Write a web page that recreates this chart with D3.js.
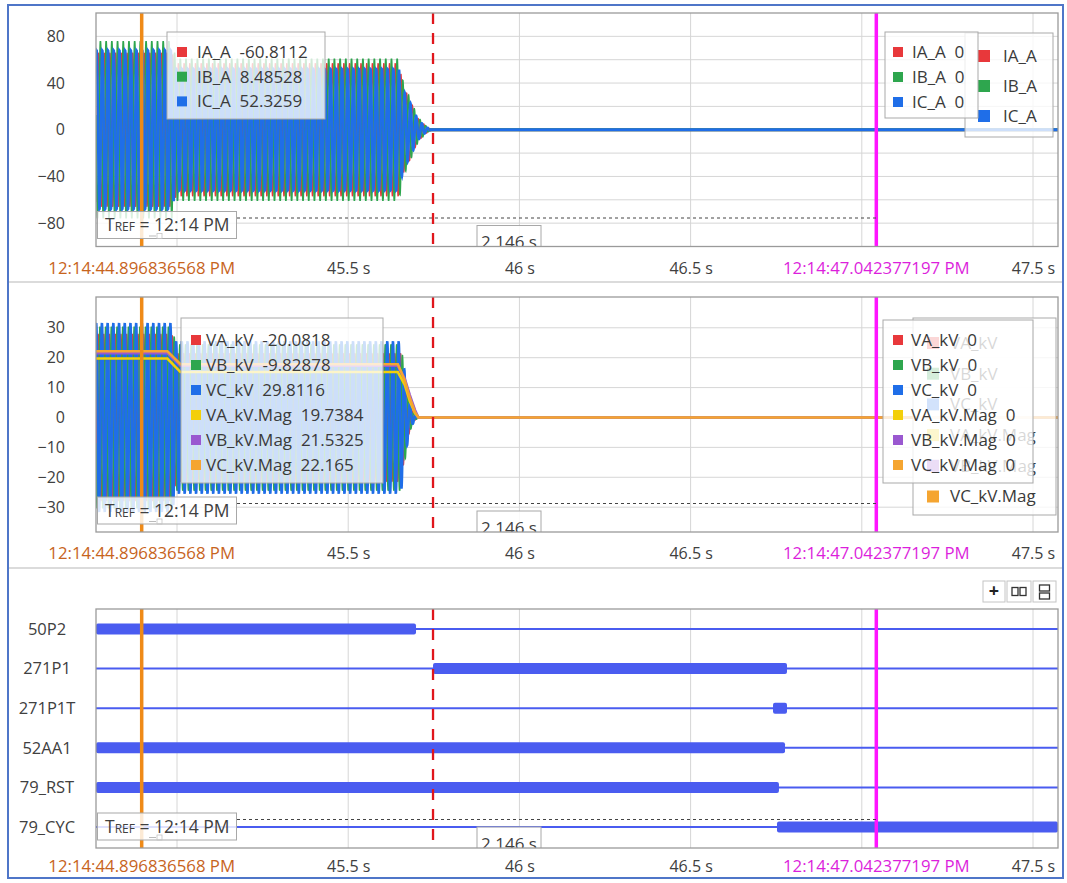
<!DOCTYPE html>
<html><head><meta charset="utf-8">
<script src="https://cdn.jsdelivr.net/npm/d3@7/dist/d3.min.js"></script>
<style>
html,body{margin:0;padding:0;background:#fff;}
svg{display:block;}
text{font-family:"Open Sans","Noto Sans",sans-serif;}
</style></head><body>
<svg id="chart" width="1067" height="883"></svg>
<script>
// ================= DATA =================
const timeDomain = [44.7634, 47.5730];               // seconds after 12:14 PM
const timeTicks = [45, 45.5, 46, 46.5, 47, 47.5];
const timeTickLabels = ["45 s", "45.5 s", "46 s", "46.5 s", "47 s", "47.5 s"];
const cursorTimes = [44.896836568, 47.042377197];
const cursorLabels = ["12:14:44.896836568 PM", "12:14:47.042377197 PM"];
const markerTime = 45.7477;
const deltaText = "2.146 s";
const trefParts = ["T", "REF", " = 12:14 PM"];
const systemHz = 60;

// Currents (A)
const currentNames = ["IA_A", "IB_A", "IC_A"];
const currentAtCursor1 = [-60.8112, 8.48528, 52.3259];
const currentAtCursor2 = [0, 0, 0];
const currentTicks = [-80, -40, 0, 40, 80];
const currentEnvTimes = [44.7634, 44.985, 44.997, 45.648, 45.661, 45.680, 45.703, 45.724, 45.742];
const currentEnvIA = [66, 66, 57, 57, 37, 26, 10, 4, 0];
const currentEnvIB = [76, 76, 61, 61, 40, 27, 11, 4, 0];
const currentEnvIC = [68, 68, 52, 52, 34, 24, 9, 3, 0];

// Voltages (kV)
const voltageNames = ["VA_kV", "VB_kV", "VC_kV"];
const voltageAtCursor1 = [-20.0818, -9.82878, 29.8116];
const voltageTicks = [-30, -20, -10, 0, 10, 20, 30];
const voltageEnvTimes = [44.7634, 44.985, 44.997, 45.654, 45.665, 45.675, 45.685, 45.695, 45.705];
const voltageEnvVA = [28.0, 28.0, 21.5, 21.5, 13, 6.5, 2.6, 0.9, 0];
const voltageEnvVB = [30.4, 30.4, 24.5, 24.5, 15, 7.5, 3.0, 1.0, 0];
const voltageEnvVC = [31.3, 31.3, 25.2, 25.2, 15, 7.0, 2.8, 0.9, 0];
const magNames = ["VA_kV.Mag", "VB_kV.Mag", "VC_kV.Mag"];
const magAtCursor1 = [19.7384, 21.5325, 22.165];
const magTimes = [44.7634, 44.972, 45.010, 45.645, 45.665, 45.680, 45.695, 45.705];
const magVA = [19.7384, 19.7384, 15.2, 15.2, 11, 5.5, 1.5, 0];
const magVB = [21.5325, 21.5325, 17.3, 17.3, 13, 7.5, 2.5, 0];
const magVC = [22.165, 22.165, 17.8, 17.8, 12.5, 6.5, 1.8, 0];

// Digital channels: asserted intervals (start, end)
const digitalNames = ["50P2", "271P1", "271P1T", "52AA1", "79_RST", "79_CYC"];
const digitalStarts = [[44.7634], [45.7477], [46.7407], [44.7634], [44.7634], [46.7523]];
const digitalEnds   = [[45.698],  [46.7815], [46.7815], [46.7757], [46.758],  [47.5730]];

// ================= STYLE =================
const phaseColors = ["#e8383b", "#2ea64e", "#1f6ee8"];
const phaseWidths = [1.4, 1.6, 2.6];
const magColors = ["#f3cf0a", "#9a58d0", "#f5a531"];
const digColor = "#4a5cf0";
const cOrange = "#ef8a17", cMagenta = "#ff14ff", cRed = "#e0161c";
const gridColor = "#d6d6d6";
const FONT = '"Open Sans","Noto Sans",sans-serif';

const svg = d3.select("#chart");
const X0 = 96, X1 = 1058;
const x = d3.scaleLinear().domain(timeDomain).range([X0, X1]);

// outer frame
svg.append("rect").attr("x", 8).attr("y", 5).attr("width", 1055).attr("height", 873)
  .attr("fill", "none").attr("stroke", "#4f76c8").attr("stroke-width", 2);
[282, 568].forEach(yy => svg.append("line").attr("x1", 9).attr("x2", 1062).attr("y1", yy).attr("y2", yy)
  .attr("stroke", "#cfcfcf").attr("stroke-width", 1.5));

const panels = [
  {id: "p1", y0: 13, y1: 246.5, labelY: 268},
  {id: "p2", y0: 297, y1: 532, labelY: 553},
  {id: "p3", y0: 609, y1: 848, labelY: 866}
];

const defs = svg.append("defs");
panels.forEach(p => {
  defs.append("clipPath").attr("id", "clip-" + p.id).append("rect")
    .attr("x", X0).attr("y", p.y0).attr("width", X1 - X0).attr("height", p.y1 - p.y0);
});

function phasorAngle(vals) {
  const a = (2 / 3) * (vals[0] - (vals[1] + vals[2]) / 2);
  const b = (vals[1] - vals[2]) / Math.sqrt(3);
  return Math.atan2(b, a);
}

function waveSeries(envTimes, envVals, theta0, k) {
  const env = d3.scaleLinear().domain(envTimes).range(envVals).clamp(true);
  const step = 1 / (systemHz * 40);
  const tEnd = envTimes[envTimes.length - 1];
  const pts = d3.range(timeDomain[0], tEnd, step).map(t => {
    const ang = theta0 + 2 * Math.PI * systemHz * (t - cursorTimes[0]) - k * 2 * Math.PI / 3;
    return [t, env(t) * Math.cos(ang)];
  });
  pts.push([tEnd, 0]);
  return pts;
}

function drawFrame(p, g) {
  g.selectAll(".vg").data(timeTicks).join("line")
    .attr("x1", d => x(d)).attr("x2", d => x(d)).attr("y1", p.y0).attr("y2", p.y1)
    .attr("stroke", gridColor).attr("stroke-width", 1);
}

function drawBorder(p) {
  svg.append("rect").attr("x", X0).attr("y", p.y0).attr("width", X1 - X0).attr("height", p.y1 - p.y0)
    .attr("fill", "none").attr("stroke", "#9a9a9a").attr("stroke-width", 1.3);
}

function drawXAxis(p) {
  const ax = d3.axisBottom(x).tickValues(timeTicks).tickFormat((d, i) => timeTickLabels[i]).tickSize(0).tickPadding(0);
  const g = svg.append("g").attr("transform", `translate(0,${p.labelY})`).call(ax);
  g.select(".domain").remove();
  g.selectAll("text").attr("dy", "0.35em").attr("font-size", 16).attr("fill", "#404040")
    .style("font-family", FONT)
    .attr("display", d => cursorTimes.some(c => Math.abs(x(c) - x(d)) < 110) ? "none" : null);
  const cl = svg.append("g");
  cl.selectAll("text").data(cursorTimes).join("text")
    .attr("x", d => x(d)).attr("y", p.labelY).attr("dy", "0.35em").attr("text-anchor", "middle")
    .attr("font-size", 16.8).attr("fill", (d, i) => i === 0 ? "#c7641d" : "#dc1fdc")
    .text((d, i) => cursorLabels[i]);
}

function drawCursors(p, g) {
  g.append("line").attr("x1", x(cursorTimes[0])).attr("x2", x(cursorTimes[0])).attr("y1", p.y0).attr("y2", p.y1)
    .attr("stroke", cOrange).attr("stroke-width", 3.5);
  g.append("line").attr("x1", x(cursorTimes[1])).attr("x2", x(cursorTimes[1])).attr("y1", p.y0).attr("y2", p.y1)
    .attr("stroke", cMagenta).attr("stroke-width", 3.5);
  g.append("line").attr("x1", x(markerTime)).attr("x2", x(markerTime)).attr("y1", p.y0).attr("y2", p.y1)
    .attr("stroke", cRed).attr("stroke-width", 2.3).attr("stroke-dasharray", "11,9");
}

function drawTref(p, g) {
  const b = p.y1;
  g.append("line").attr("x1", 237).attr("x2", x(cursorTimes[1])).attr("y1", b - 28.5).attr("y2", b - 28.5)
    .attr("stroke", "#444").attr("stroke-width", 1).attr("stroke-dasharray", "3,3");
  g.append("rect").attr("x", 97.5).attr("y", b - 35).attr("width", 139).attr("height", 27)
    .attr("fill", "rgba(255,255,255,0.82)").attr("stroke", "#a8a8a8").attr("stroke-width", 1);
  const t = g.append("text").attr("x", 105).attr("y", b - 15.5).attr("font-size", 17.5).attr("fill", "#404040");
  t.append("tspan").text(trefParts[0]);
  t.append("tspan").attr("font-size", 12).text(trefParts[1]);
  t.append("tspan").text(trefParts[2]);
  g.append("line").attr("x1", 149).attr("x2", 156).attr("y1", b - 10.5).attr("y2", b - 10.5)
    .attr("stroke", "#bbb").attr("stroke-width", 1);
  g.append("rect").attr("x", 157).attr("y", b - 13).attr("width", 5).attr("height", 5)
    .attr("fill", "none").attr("stroke", "#c4c4c4").attr("stroke-width", 0.8);
  g.append("rect").attr("x", 477).attr("y", b - 21).attr("width", 64).attr("height", 30)
    .attr("fill", "rgba(255,255,255,0.85)").attr("stroke", "#a8a8a8").attr("stroke-width", 1);
  g.append("text").attr("x", 509).attr("y", b + 1.5).attr("text-anchor", "middle")
    .attr("font-size", 17).attr("fill", "#404040").text(deltaText);
}

function drawLegend(g, o) {
  g.append("rect").attr("x", o.x).attr("y", o.y).attr("width", o.w).attr("height", o.h)
    .attr("fill", o.fill || "rgba(255,255,255,0.78)").attr("stroke", "#a9a9a9").attr("stroke-width", 1);
  const rows = g.selectAll(null).data(o.names).join("g")
    .attr("transform", (d, i) => `translate(0,${o.firstY + i * o.rowH})`);
  rows.append("rect").attr("x", o.sqX).attr("y", -o.sq / 2).attr("width", o.sq).attr("height", o.sq)
    .attr("fill", (d, i) => o.colors[i]);
  rows.append("text").attr("x", o.txtX).attr("y", 0).attr("dy", "0.35em").attr("font-size", 17)
    .attr("fill", "#3a3a3a")
    .text((d, i) => o.values ? d + "\u00a0\u00a0" + String(o.values[i]) : d);
}

function drawYAxis(axis, xPos, size, anchor) {
  const ag = svg.append("g").attr("transform", `translate(${xPos},0)`).call(axis);
  ag.select(".domain").remove();
  const t = ag.selectAll("text").attr("font-size", size).attr("fill", "#404040").style("font-family", FONT);
  if (anchor) t.attr("text-anchor", anchor);
}

// ---------------- Panel 1: currents ----------------
{
  const p = panels[0];
  const y = d3.scaleLinear().domain([-100, 100]).range([p.y1, p.y0]);
  const g = svg.append("g").attr("clip-path", "url(#clip-p1)");
  drawFrame(p, g);
  g.selectAll(".hg").data(d3.range(-80, 81, 20)).join("line")
    .attr("x1", X0).attr("x2", X1).attr("y1", d => y(d)).attr("y2", d => y(d))
    .attr("stroke", gridColor).attr("stroke-width", 1);
  const th = phasorAngle(currentAtCursor1);
  const envs = [currentEnvIA, currentEnvIB, currentEnvIC];
  const line = d3.line().x(d => x(d[0])).y(d => y(d[1]));
  envs.forEach((env, k) => {
    g.append("path").attr("d", line(waveSeries(currentEnvTimes, env, th, k)))
      .attr("fill", "none").attr("stroke", phaseColors[k]).attr("stroke-width", phaseWidths[k]);
  });
  const tEnd = currentEnvTimes[currentEnvTimes.length - 1];
  envs.forEach((env, k) => {
    g.append("path").attr("d", line([[tEnd - 0.004, 0], [timeDomain[1], 0]]))
      .attr("fill", "none").attr("stroke", phaseColors[k]).attr("stroke-width", 2.8);
  });
  drawCursors(p, g);
  drawTref(p, g);
  drawLegend(g, {x: 167, y: 32, w: 158, h: 87, names: currentNames, colors: phaseColors,
    values: currentAtCursor1, firstY: 52, rowH: 24.7, sq: 10, sqX: 177, txtX: 197});
  drawLegend(g, {x: 965, y: 33, w: 88, h: 104, names: currentNames, colors: phaseColors,
    firstY: 56, rowH: 30, sq: 12, sqX: 978, txtX: 1003});
  drawLegend(g, {x: 885, y: 32, w: 93, h: 86, names: currentNames, colors: phaseColors,
    values: currentAtCursor2, firstY: 52, rowH: 25, sq: 10, sqX: 893, txtX: 912});
  drawBorder(p);
  drawYAxis(d3.axisLeft(y).tickValues(currentTicks).tickSize(0).tickPadding(0), 65, 16);
  drawXAxis(p);
}

// ---------------- Panel 2: voltages ----------------
{
  const p = panels[1];
  const y = d3.scaleLinear().domain([-38.3, 40.3]).range([p.y1, p.y0]);
  const g = svg.append("g").attr("clip-path", "url(#clip-p2)");
  drawFrame(p, g);
  g.selectAll(".hg").data(voltageTicks).join("line")
    .attr("x1", X0).attr("x2", X1).attr("y1", d => y(d)).attr("y2", d => y(d))
    .attr("stroke", gridColor).attr("stroke-width", 1);
  const th = phasorAngle(voltageAtCursor1);
  const envs = [voltageEnvVA, voltageEnvVB, voltageEnvVC];
  const line = d3.line().x(d => x(d[0])).y(d => y(d[1]));
  envs.forEach((env, k) => {
    g.append("path").attr("d", line(waveSeries(voltageEnvTimes, env, th, k)))
      .attr("fill", "none").attr("stroke", phaseColors[k]).attr("stroke-width", phaseWidths[k]);
  });
  [magVA, magVB, magVC].forEach((m, k) => {
    const pts = magTimes.map((t, i) => [t, m[i]]).concat([[timeDomain[1], 0]]);
    g.append("path").attr("d", line(pts)).attr("fill", "none")
      .attr("stroke", magColors[k]).attr("stroke-width", 2.6);
  });
  drawCursors(p, g);
  drawTref(p, g);
  drawLegend(g, {x: 181, y: 318, w: 202, h: 165, names: voltageNames.concat(magNames),
    colors: phaseColors.concat(magColors), values: voltageAtCursor1.concat(magAtCursor1),
    firstY: 340, rowH: 25, sq: 10, sqX: 191, txtX: 206});
  drawLegend(g, {x: 913, y: 318, w: 143, h: 197, names: voltageNames.concat(magNames),
    colors: phaseColors.concat(magColors), firstY: 343, rowH: 30.7, sq: 12, sqX: 927, txtX: 950});
  drawLegend(g, {x: 883, y: 320, w: 150, h: 163, names: voltageNames.concat(magNames),
    colors: phaseColors.concat(magColors), values: [0, 0, 0, 0, 0, 0],
    firstY: 340, rowH: 25, sq: 10, sqX: 893, txtX: 911, fill: "rgba(255,255,255,0.8)"});
  drawBorder(p);
  drawYAxis(d3.axisLeft(y).tickValues(voltageTicks).tickSize(0).tickPadding(0), 65, 16);
  drawXAxis(p);
}

// ---------------- Panel 3: digital ----------------
{
  const p = panels[2];
  const yr = d3.scalePoint().domain(digitalNames).range([629, 827]);
  const g = svg.append("g").attr("clip-path", "url(#clip-p3)");
  drawFrame(p, g);
  g.selectAll(".base").data(digitalNames).join("line")
    .attr("x1", X0).attr("x2", X1).attr("y1", d => yr(d)).attr("y2", d => yr(d))
    .attr("stroke", digColor).attr("stroke-width", 2);
  digitalNames.forEach((n, i) => {
    digitalStarts[i].forEach((s, j) => {
      const e = digitalEnds[i][j];
      g.append("rect").attr("x", x(s)).attr("y", yr(n) - 5.5).attr("width", x(e) - x(s)).attr("height", 11)
        .attr("rx", 2).attr("fill", digColor);
    });
  });
  drawCursors(p, g);
  drawTref(p, g);
  drawBorder(p);
  drawYAxis(d3.axisLeft(yr).tickSize(0).tickPadding(0), 47, 16.5, "middle");
  drawXAxis(p);

  // toolbar buttons
  const bg = svg.append("g");
  const btns = [[983, 22], [1007, 24], [1033, 23]];
  btns.forEach(([bx, bw]) => bg.append("rect").attr("x", bx).attr("y", 581).attr("width", bw).attr("height", 21)
    .attr("fill", "#fff").attr("stroke", "#c4c4c4"));
  bg.append("text").attr("x", 994).attr("y", 597).attr("text-anchor", "middle").attr("font-size", 18)
    .attr("font-weight", "bold").attr("fill", "#222").text("+");
  bg.append("rect").attr("x", 1012).attr("y", 587.5).attr("width", 6).attr("height", 8).attr("fill", "none").attr("stroke", "#333").attr("stroke-width", 1.3);
  bg.append("rect").attr("x", 1020).attr("y", 587.5).attr("width", 6).attr("height", 8).attr("fill", "none").attr("stroke", "#333").attr("stroke-width", 1.3);
  bg.append("rect").attr("x", 1039.5).attr("y", 585).attr("width", 10).attr("height", 6).attr("fill", "none").attr("stroke", "#333").attr("stroke-width", 1.3);
  bg.append("rect").attr("x", 1039.5).attr("y", 593).attr("width", 10).attr("height", 6).attr("fill", "none").attr("stroke", "#333").attr("stroke-width", 1.3);
}
</script>
</body></html>
